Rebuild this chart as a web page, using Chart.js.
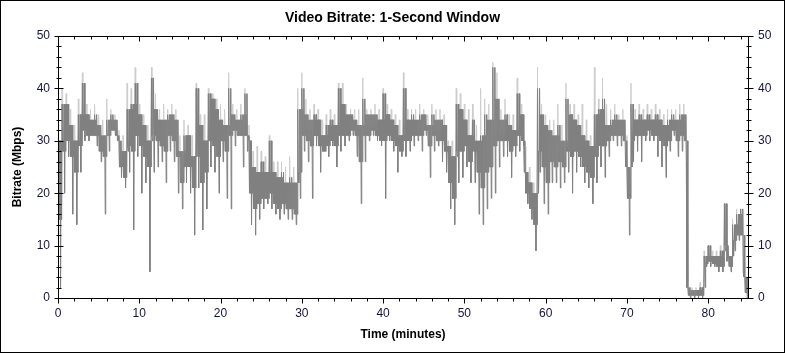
<!DOCTYPE html>
<html>
<head>
<meta charset="utf-8">
<script src="https://cdn.jsdelivr.net/npm/chart.js@4/dist/chart.umd.min.js"></script>
<style>
  html, body { margin: 0; padding: 0; background: #fff; }
  #wrap { width: 785px; height: 353px; }
</style>
</head>
<body>
<div id="wrap"><canvas id="c" width="785" height="353"></canvas></div>
<script>
// one sample every half minute: band top, band floor, deepest dip, light peak
const BIN = 0.5;
const top_ = [
  30, 37, 37, 33, 30, 35, 41, 35, 34, 35, 33, 31, 34, 35, 34, 30, 28, 36, 37, 41, 35, 33, 30, 42, 36, 34, 34, 35,
  35, 34, 28, 31, 31, 27, 40, 33, 30, 39, 38, 36, 34, 33, 40, 35, 34, 35, 39, 30, 25, 24, 26, 24, 30, 24, 23, 24, 22,
  23, 22, 36, 40, 35, 34, 35, 34, 31, 33, 34, 33, 40, 37, 35, 35, 34, 33, 38, 35, 35, 35, 34, 39, 35, 34, 33, 31,
  40, 34, 35, 34, 35, 35, 33, 35, 34, 34, 33, 29, 27, 37, 36, 34, 31, 34, 30, 31, 35, 34, 44, 38, 34, 35, 33, 32,
  39, 35, 24, 22, 20, 40, 35, 33, 32, 31, 33, 30, 38, 35, 34, 33, 31, 30, 29, 35, 36, 38, 33, 34, 35, 34, 34, 25,
  37, 34, 35, 34, 35, 34, 35, 34, 33, 34, 35, 34, 35, 35, 2, 1.5, 1.5, 2, 8, 10, 8, 8, 9, 18, 8, 14, 16, 17, 4
];
const floor_ = [
  15, 28, 30, 27, 24, 29, 32, 31, 31, 31, 28, 27, 31, 32, 31, 25, 23, 29, 28, 31, 29, 27, 25, 31, 30, 29, 28, 31,
  30, 27, 22, 25, 25, 21, 27, 22, 24, 30, 29, 27, 30, 28, 31, 32, 31, 31, 31, 20, 17, 18, 19, 19, 20, 18, 17, 18, 17,
  17, 16, 24, 31, 30, 29, 31, 29, 28, 29, 30, 29, 31, 31, 31, 32, 31, 26, 31, 31, 32, 31, 30, 30, 31, 30, 29, 28,
  30, 30, 31, 31, 31, 32, 29, 31, 30, 30, 28, 22, 19, 28, 28, 29, 26, 28, 24, 21, 24, 25, 29, 30, 30, 30, 28, 29,
  31, 30, 20, 17, 14, 28, 25, 22, 26, 25, 26, 25, 28, 27, 28, 27, 25, 24, 23, 27, 29, 29, 30, 31, 31, 31, 30, 19,
  30, 31, 31, 31, 32, 31, 31, 30, 29, 30, 32, 30, 31, 30, 0.5, 0.5, 0.5, 0.5, 6.5, 7, 6.5, 6, 6, 10, 6, 11, 12, 12, 1
];
const bottom_ = [
  2, 20, 27, 16, 14, 24, 30, 30, 31, 29, 26, 16, 28, 32, 30, 23, 21, 24, 13, 27, 20, 22, 5, 24, 25, 26, 22, 28,
  26, 20, 17, 22, 20, 12, 21, 13, 17, 25, 24, 20, 26, 19, 17, 29, 31, 25, 28, 14, 12, 15, 17, 18, 17, 16, 15, 16, 15,
  15, 14, 19, 28, 26, 19, 29, 24, 28, 27, 29, 25, 28, 29, 30, 31, 27, 18, 26, 30, 31, 30, 29, 19, 30, 28, 24, 27,
  27, 28, 29, 30, 28, 31, 23, 28, 29, 26, 24, 17, 14, 22, 23, 25, 22, 22, 16, 14, 17, 19, 20, 25, 27, 27, 23, 27,
  28, 29, 18, 15, 9, 24, 18, 16, 22, 22, 21, 22, 24, 20, 24, 25, 22, 21, 18, 22, 25, 23, 27, 30, 29, 29, 27, 12,
  26, 28, 26, 30, 30, 30, 27, 25, 23, 28, 31, 27, 28, 26, 0, 0, 0, 0, 6, 6, 6, 5, 5, 7, 5, 9, 11, 5, 0
];
const peak_ = [
  36, 40, 39, 36, 33, 38, 43, 37, 36, 37, 35, 34, 38, 36, 35, 32, 31, 41, 40, 44, 37, 35, 33, 44, 39, 36, 37, 36,
  37, 36, 31, 34, 33, 31, 41, 35, 35, 40, 39, 38, 37, 36, 43, 37, 36, 37, 40, 33, 28, 29, 28, 27, 31, 26, 26, 26, 25,
  27, 25, 40, 43, 38, 36, 37, 36, 34, 35, 36, 35, 41, 41, 37, 36, 36, 36, 42, 36, 36, 37, 36, 40, 37, 36, 35, 34,
  43, 36, 36, 36, 37, 36, 35, 37, 36, 36, 35, 30, 30, 40, 39, 37, 36, 37, 33, 40, 38, 37, 45, 43, 36, 38, 35, 35,
  42, 37, 29, 25, 22, 44, 37, 35, 34, 34, 37, 33, 41, 37, 37, 35, 37, 34, 31, 44, 38, 42, 37, 36, 37, 35, 36, 31,
  41, 36, 37, 36, 37, 36, 37, 36, 35, 36, 36, 36, 37, 37, 3, 2, 2, 3, 9, 10, 9, 9, 10, 18, 9, 15, 17, 17, 5
];
const xTicks = [0, 10, 20, 30, 40, 50, 60, 70, 80];
const yTickStep = 10;

const SUB_STEP = BIN / 8;

// zigzag inside each half-minute bin so the 1-second trace reads as a dense band;
// neighbouring tops are borrowed (never raised) to roughen the flat bin edges
function toPoints(isLight) {
  const pts = [];
  const n = top_.length;
  for (let i = 0; i < n; i++) {
    const t = i * BIN;
    const prevTop = Math.min(top_[Math.max(i - 1, 0)], top_[i]);
    const nextTop = Math.min(top_[Math.min(i + 1, n - 1)], top_[i]);
    const seq = isLight
      ? [peak_[i], floor_[i], prevTop, floor_[i], top_[i], floor_[i], nextTop, floor_[i]]
      : [top_[i], floor_[i], prevTop, floor_[i], top_[i], bottom_[i], nextTop, floor_[i]];
    seq.forEach((v, k) => pts.push({ x: t + k * SUB_STEP, y: v }));
  }
  return pts;
}

const darkData = toPoints(false);
const lightData = toPoints(true);

const TICK_COLOR = '#14143c';

const frame = {
  id: 'frame',
  afterDraw(chart) {
    const ctx = chart.ctx;
    const a = chart.chartArea;
    const xs = chart.scales.x, yl = chart.scales.y;
    ctx.save();
    ctx.strokeStyle = '#000';
    ctx.lineWidth = 1;
    ctx.strokeRect(0.5, 0.5, chart.width - 1, chart.height - 1);
    const L = Math.round(a.left) + 0.5, R = Math.round(a.right) + 0.5;
    const T = Math.round(a.top) + 0.5, B = Math.round(a.bottom) + 0.5;
    ctx.strokeRect(L, T, R - L, B - T);
    ctx.beginPath();
    for (let v = 0; v <= xs.max; v += 2) {
      const px = Math.round(xs.getPixelForValue(v)) + 0.5;
      const major = v % 10 === 0;
      ctx.moveTo(px, B); ctx.lineTo(px, B + (major ? 5 : 3));
      ctx.moveTo(px, T); ctx.lineTo(px, T + (major ? 5 : 3));
    }
    for (let v = 0; v <= 50; v += 2) {
      const py = Math.round(yl.getPixelForValue(v)) + 0.5;
      const h = v % 10 === 0 ? 4 : 2;
      ctx.moveTo(L - h, py); ctx.lineTo(L + h + 1, py);
      ctx.moveTo(R - h, py); ctx.lineTo(R + h + 1, py);
    }
    ctx.stroke();
    ctx.restore();
  }
};

const tickFont = { family: 'Arial, "Liberation Sans", sans-serif', size: 12 };
const titleFont = { family: 'Arial, "Liberation Sans", sans-serif', size: 12, weight: 'bold' };

new Chart(document.getElementById('c'), {
  type: 'line',
  data: {
    datasets: [
      { label: 'bitrate', data: darkData, borderColor: '#808080', borderWidth: 1, pointRadius: 0, tension: 0 },
      { label: 'peak', data: lightData, borderColor: '#cdcdcd', borderWidth: 1, pointRadius: 0, tension: 0 }
    ]
  },
  options: {
    responsive: false,
    animation: false,
    events: [],
    layout: { padding: 0 },
    plugins: {
      legend: { display: false },
      tooltip: { enabled: false },
      title: {
        display: true,
        text: 'Video Bitrate: 1-Second Window',
        color: '#000',
        font: { family: 'Arial, "Liberation Sans", sans-serif', size: 14, weight: 'bold' },
        padding: { top: 9.5, bottom: 9.7 }
      }
    },
    scales: {
      x: {
        type: 'linear',
        min: 0,
        max: 84.9,
        afterFit: s => { s.height = 55; },
        afterBuildTicks: s => { s.ticks = xTicks.map(v => ({ value: v })); },
        ticks: { autoSkip: false, color: TICK_COLOR, font: tickFont, padding: 8, maxRotation: 0 },
        grid: { display: true, drawOnChartArea: false, drawTicks: false, color: 'rgba(0,0,0,0)' },
        border: { display: false },
        title: { display: true, text: 'Time (minutes)', color: '#000', font: titleFont, padding: { top: 0, bottom: 11 } }
      },
      y: {
        position: 'left',
        min: 0,
        max: 50,
        afterFit: s => { s.width = 58; },
        ticks: { stepSize: yTickStep, color: TICK_COLOR, font: tickFont, padding: 8 },
        grid: { display: true, drawOnChartArea: false, drawTicks: false, color: 'rgba(0,0,0,0)' },
        border: { display: false },
        title: { display: true, text: 'Bitrate (Mbps)', color: '#000', font: titleFont, padding: { top: 10, bottom: 0 } }
      },
      y2: {
        position: 'right',
        min: 0,
        max: 50,
        afterFit: s => { s.width = 37; },
        ticks: { stepSize: yTickStep, color: TICK_COLOR, font: tickFont, padding: 10 },
        grid: { display: true, drawOnChartArea: false, drawTicks: false, color: 'rgba(0,0,0,0)' },
        border: { display: false }
      }
    }
  },
  plugins: [frame]
});
</script>
</body>
</html>
